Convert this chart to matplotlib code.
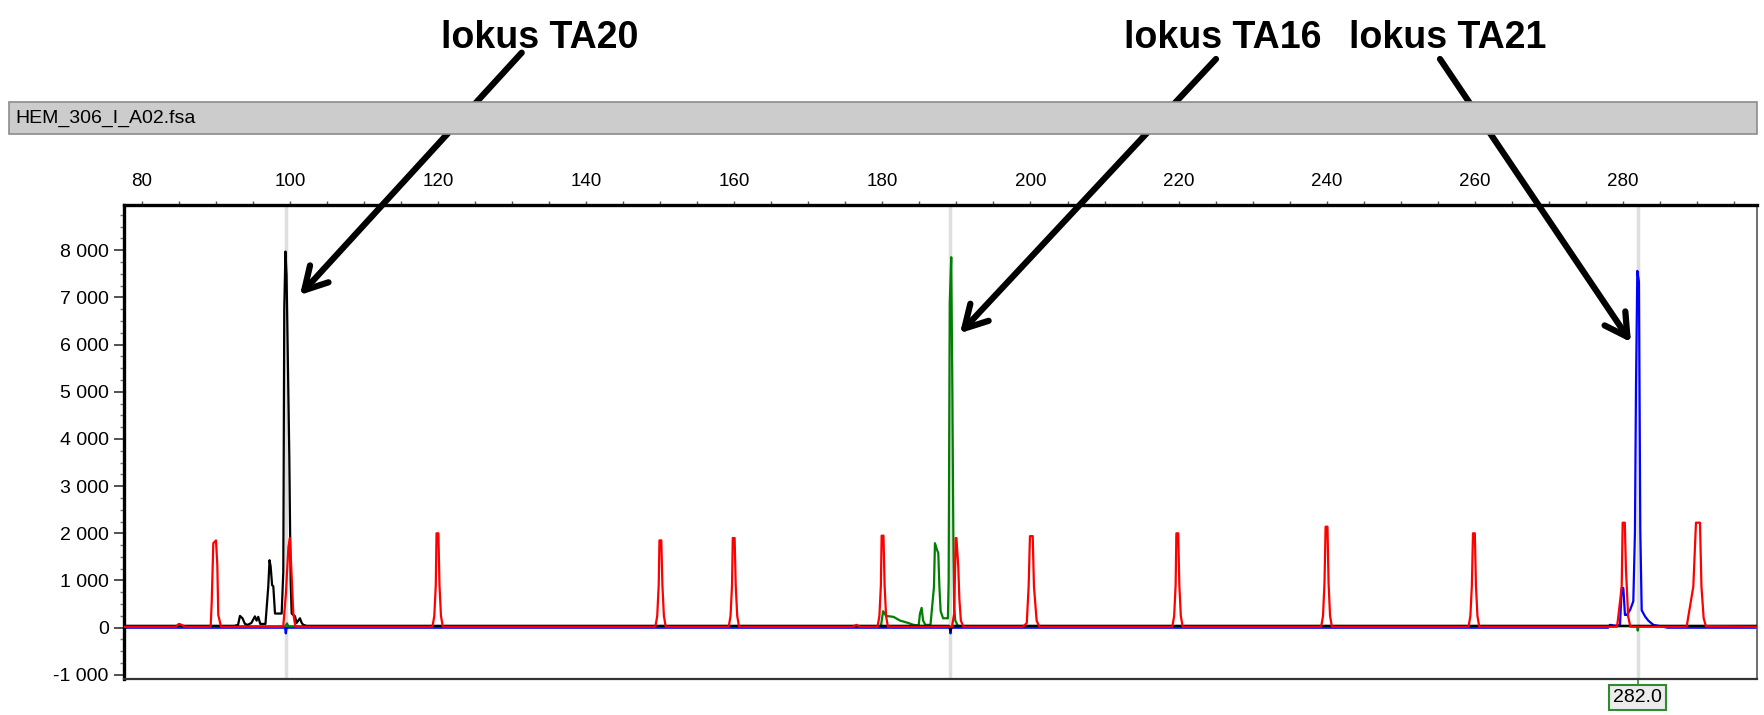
import matplotlib
matplotlib.use("Agg")
import matplotlib.pyplot as plt
import matplotlib.transforms as mtransforms
from matplotlib import font_manager
from matplotlib.patches import Rectangle
from matplotlib.ticker import MultipleLocator, FuncFormatter

# sample name and marker loci
sample_name = "HEM_306_I_A02.fsa"
loci = ["lokus TA20", "lokus TA16", "lokus TA21"]
bin_lines = [99.45, 189.2, 282.0]
called_size = 282.0

# size standard (red)
red_bp = [77.6, 84.6, 85.0, 85.4, 85.8,
          89.3, 89.44, 89.66, 90.02, 90.2, 90.33, 90.7,
          99.1, 99.45, 99.8, 100.0, 100.28, 100.46, 100.75,
          119.25, 119.5, 119.7, 119.8, 120.05, 120.2, 120.4, 120.65,
          149.35, 149.6, 149.8, 149.9, 150.15, 150.3, 150.5, 150.75,
          159.25, 159.5, 159.7, 159.8, 160.05, 160.2, 160.4, 160.65,
          176.0, 176.5, 177.0, 179.35, 179.6, 179.8, 179.9, 180.15, 180.3, 180.5, 180.75,
          189.4, 189.7, 189.9, 190.0, 190.25, 190.4, 190.6, 190.95,
          199.0, 199.5, 199.75, 199.93, 200.3, 200.47, 200.83, 201.2,
          219.15, 219.4, 219.6, 219.7, 219.95, 220.1, 220.3, 220.55,
          239.25, 239.5, 239.7, 239.85, 240.1, 240.25, 240.45, 240.7,
          259.15, 259.4, 259.6, 259.75, 260.0, 260.15, 260.35, 260.6,
          279.2, 279.37, 279.83, 279.96, 280.25, 280.4, 280.7, 281.0,
          288.6, 288.82, 289.5, 289.86, 290.4, 290.6, 290.9, 291.2, 298.1]
red_rfu = [20, 20, 80, 60, 20,
           20, 520, 1790, 1850, 1330, 270, 20,
           20, 700, 1700, 1900, 950, 300, 20,
           20, 250, 900, 2000, 2000, 900, 250, 20,
           20, 250, 900, 1850, 1850, 900, 250, 20,
           20, 250, 900, 1900, 1900, 900, 250, 20,
           20, 60, 20, 20, 250, 900, 1950, 1950, 900, 250, 20,
           20, 300, 1900, 1900, 1290, 600, 150, 20,
           20, 100, 870, 1940, 1940, 870, 150, 20,
           20, 250, 900, 2000, 2000, 900, 250, 20,
           20, 250, 950, 2140, 2140, 950, 250, 20,
           20, 250, 900, 2000, 2000, 900, 250, 20,
           20, 230, 870, 2225, 2225, 1260, 240, 20,
           20, 230, 870, 2225, 2225, 870, 200, 30, 20]

# TA20 (black)
black_bp = [77.6, 92.5, 93.0, 93.26, 93.6, 93.93, 94.3, 94.8,
            95.28, 95.5, 95.73, 96.0, 96.7, 97.08, 97.25, 97.4, 97.6, 97.76, 97.99,
            98.22, 98.89, 99.11, 99.24, 99.4, 99.55, 99.92, 100.1, 100.24, 100.69,
            100.9, 101.36, 101.6, 101.81, 102.27, 189.0, 189.2, 189.4, 298.1]
black_rfu = [40, 40, 60, 250, 200, 80, 60, 100,
             240, 150, 230, 80, 80, 870, 1430, 1300, 900, 880, 300,
             300, 300, 1190, 6770, 7970, 7470, 3650, 1000, 300, 240,
             100, 200, 100, 60, 40, 40, -60, 40, 40]

# TA16 (green)
green_bp = [77.6, 99.4, 99.6, 99.8, 179.8, 180.1, 180.5, 181.5, 182.4, 183.5, 184.2,
            184.9, 185.08, 185.3, 185.5, 185.8, 186.5, 186.97, 187.1, 187.4, 187.55,
            187.7, 187.87, 188.2, 188.68, 188.85, 188.95, 189.1, 189.3, 189.45, 189.6,
            189.7, 189.85, 190.2, 190.6, 281.9, 282.0, 282.1, 298.1]
green_rfu = [30, 30, 90, 30, 30, 350, 250, 230, 150, 100, 60,
             50, 300, 420, 150, 60, 60, 870, 1790, 1640, 1580,
             870, 350, 200, 200, 200, 1000, 6880, 7850, 5080, 1580,
             400, 150, 40, 30, 30, -60, 30, 30]

# TA21 (blue)
blue_bp = [77.6, 99.35, 99.45, 99.55, 189.1, 189.2, 189.3, 278.0, 278.25, 279.0, 279.6,
           279.83, 280.05, 280.27, 280.5, 280.95, 281.4, 281.62, 281.76, 281.94, 282.16,
           282.34, 282.53, 282.98, 283.42, 284.1, 285.4, 286.0, 298.1]
blue_rfu = [0, 0, -120, 0, 0, -120, 0, 0, 60, 40, 60,
            840, 840, 270, 270, 370, 560, 2030, 5100, 7560, 7330,
            2070, 370, 240, 150, 60, 20, 0, 0]

# arrow tips (bp, rfu) and label positions in figure pixels
arrow_tips = [(101.36, 7050), (190.48, 6240), (281.08, 6050)]
arrow_tails_px = [(521.7, 662.3), (1216, 656), (1440, 656)]
label_x_px = [540, 1223, 1448]

# narrow bold face for the locus labels if there is one
font_names = {f.name for f in font_manager.fontManager.ttflist}
if "Liberation Sans Narrow" in font_names:
    label_font, label_size = "Liberation Sans Narrow", 32
else:
    label_font, label_size = "Liberation Sans", 27

W, H = 1764, 715
fig = plt.figure(figsize=(W / 100, H / 100), dpi=100)
ax = fig.add_axes([124 / W, 36 / H, (1757 - 124) / W, (679 - 205) / H])

for x in bin_lines:
    ax.axvline(x, color="#dedede", lw=2.5, zorder=0)

ax.plot(blue_bp, blue_rfu, color="#0000ff", lw=1.6, zorder=2)
ax.plot(green_bp, green_rfu, color="#008000", lw=1.6, zorder=3)
ax.plot(black_bp, black_rfu, color="#000000", lw=1.6, zorder=4)
ax.plot(red_bp, red_rfu, color="#ff0000", lw=1.6, zorder=5)

ax.set_xlim(77.6, 298.1)
ax.set_ylim(-1087, 8956)

# size axis on top
ax.xaxis.tick_top()
ax.set_xticks(range(80, 300, 20))
ax.xaxis.set_minor_locator(MultipleLocator(5))
ax.tick_params(axis="x", which="both", length=3, width=1, color="#555555",
               pad=8, labelsize=13.5, bottom=False)
ax.set_yticks(range(-1000, 9000, 1000))
ax.yaxis.set_minor_locator(MultipleLocator(250))
ax.yaxis.set_major_formatter(FuncFormatter(lambda v, p: f"{v:,.0f}".replace(",", " ")))
ax.tick_params(axis="y", which="major", length=7, width=1.3, color="#444444",
               pad=4, labelsize=14)
ax.tick_params(axis="y", which="minor", length=3, width=1, color="#777777")
for lab in ax.get_xticklabels() + ax.get_yticklabels():
    lab.set_fontfamily("Liberation Sans")

ax.spines["left"].set_linewidth(2.4)
ax.spines["top"].set_linewidth(2.4)
ax.spines["bottom"].set_linewidth(1.6)
ax.spines["bottom"].set_color("#333333")
ax.spines["right"].set_linewidth(1.2)
ax.spines["right"].set_color("#555555")

# called size box under the plot
trans = mtransforms.blended_transform_factory(ax.transData, ax.transAxes)
ax.plot([called_size, called_size], [0, -0.01], transform=trans, color="#2e8b2e",
        lw=1.2, clip_on=False)
ax.text(called_size, -0.039, f"{called_size:.1f}", transform=trans, ha="center",
        va="center", fontsize=14, family="Liberation Sans",
        bbox=dict(boxstyle="square,pad=0.2", fc="#ececec", ec="#2e8b2e", lw=1.5))

# sample header bar
fig.patches.append(Rectangle((9 / W, (H - 134) / H), (1757 - 9) / W, 32 / H,
                             transform=fig.transFigure, facecolor="#cccccc",
                             edgecolor="#8c8c8c", lw=1.2))
fig.text(15 / W, 1 - 118 / H, sample_name, va="center", ha="left", fontsize=14,
         family="Liberation Sans")

# locus labels with arrows
for name, lx, tip, tail in zip(loci, label_x_px, arrow_tips, arrow_tails_px):
    fig.text(lx / W, 1 - 48 / H, name, ha="center", va="baseline", fontsize=label_size,
             fontweight="bold", family=label_font)
    ax.annotate("", xy=tip, xycoords="data", xytext=tail, textcoords="figure pixels",
                arrowprops=dict(arrowstyle="->,head_length=0.8,head_width=0.45",
                                lw=4.5, color="black", mutation_scale=20,
                                shrinkA=0, shrinkB=0),
                annotation_clip=False, zorder=10)

fig.savefig("out.png", dpi=100)
